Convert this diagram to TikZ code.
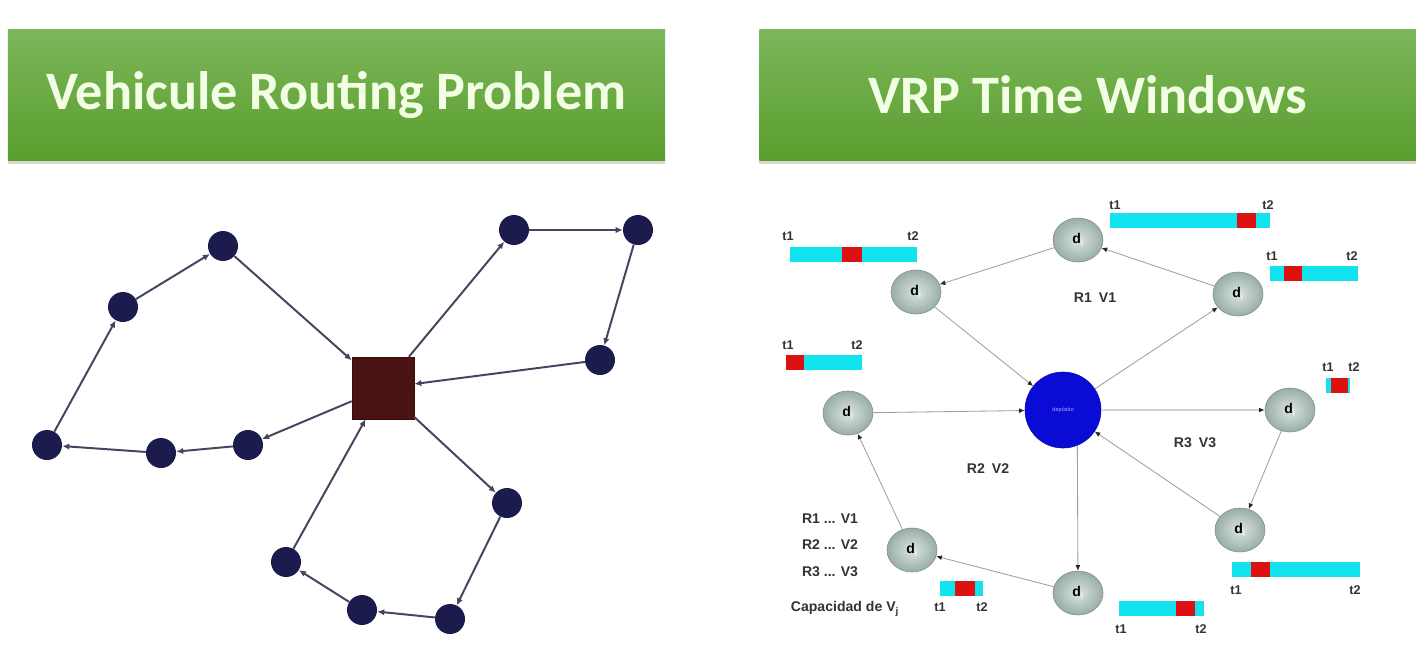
\documentclass[tikz,border=0pt]{standalone}
\usepackage{fontspec}
\setmainfont{Liberation Sans}
\newfontfamily\titlefont{Carlito}
\usetikzlibrary{arrows.meta,shadows,shapes.geometric}

\definecolor{titletop}{HTML}{7CB65A}
\definecolor{titlebot}{HTML}{5A9E2E}
\definecolor{titletext}{HTML}{F2FFE4}
\definecolor{navy}{HTML}{1B1B4E}
\definecolor{maroon}{HTML}{4A1212}
\definecolor{edgegray}{HTML}{45455F}
\definecolor{custfill}{HTML}{A6BDB5}
\definecolor{twcyan}{HTML}{11E4EE}
\definecolor{twred}{HTML}{DD1111}
\definecolor{depblue}{HTML}{0B0BD6}

\begin{document}
\begin{tikzpicture}[x=0.025cm,y=-0.025cm,
    title/.style={minimum width=16.425cm, minimum height=3.25cm, top color=titletop, bottom color=titlebot,
      drop shadow={shadow xshift=0pt, shadow yshift=-3pt, opacity=0.3}, text=titletext,
      font=\titlefont\bfseries\fontsize{38.5}{44}\selectfont},
    city/.style={circle, fill=navy, minimum size=0.75cm, inner sep=0pt},
    route/.style={draw=edgegray, line width=1.4pt, -{Latex[length=5pt,width=4.5pt]}},
    cust/.style={ellipse, minimum width=1.25cm, minimum height=1.1cm, inner sep=0pt,
      inner color=custfill!40!white, outer color=custfill!92!black, draw=custfill!75!black, thin},
    link/.style={draw=gray!75, line width=0.6pt, -{Latex[length=4pt,width=3.5pt,color=black!85]}},
    lbl/.style={font=\bfseries\fontsize{10}{12}\selectfont, text=black!80},
    tlbl/.style={font=\bfseries\fontsize{9}{10}\selectfont, text=black!80}]
  \useasboundingbox[fill=white] (0,0) rectangle (1416,647);

  % titles
  \node[title](t1) at (336.5,95){Vehicule Routing Problem};
  \node[title](t2) at (1088,95){VRP Time Windows};

  % --- VRP ---
  \node[rectangle, fill=maroon, draw=maroon!70!black, minimum size=1.55cm](dep) at (383,388){};

  \node[city](c1) at (223,246){};
  \node[city](c2) at (123,307){};
  \node[city](c3) at (47,445){};
  \node[city](c4) at (161,453){};
  \node[city](c5) at (248,445){};
  \node[city](c6) at (514,230){};
  \node[city](c7) at (638,230){};
  \node[city](c8) at (600,360){};
  \node[city](c9) at (507,503){};
  \node[city](c10) at (450,619){};
  \node[city](c11) at (362,610){};
  \node[city](c12) at (286,562){};

  \draw[route] (dep) -- (c5);
  \draw[route] (c5) -- (c4);
  \draw[route] (c4) -- (c3);
  \draw[route] (c3) -- (c2);
  \draw[route] (c2) -- (c1);
  \draw[route] (c1) -- (dep);

  \draw[route] (dep) -- (c6);
  \draw[route] (c6) -- (c7);
  \draw[route] (c7) -- (c8);
  \draw[route] (c8) -- (dep);

  \draw[route] (dep) -- (c9);
  \draw[route] (c9) -- (c10);
  \draw[route] (c10) -- (c11);
  \draw[route] (c11) -- (c12);
  \draw[route] (c12) -- (dep);

  % --- VRPTW ---
  \node[circle, fill=depblue, draw=depblue!80!black, minimum size=1.9cm, inner sep=0pt,
    text=blue!35!white, font=\fontsize{4}{5}\selectfont](dp) at (1063,410){depósito};

  \node[cust](d1) at (916,292){\textbf{d}\textcolor{white}{\textsubscript{i}}};
  \node[cust](d2) at (1078,240){\textbf{d}\textcolor{white}{\textsubscript{i}}};
  \node[cust](d3) at (1238,294){\textbf{d}\textcolor{white}{\textsubscript{i}}};
  \node[cust](d4) at (848,413){\textbf{d}\textcolor{white}{\textsubscript{i}}};
  \node[cust](d5) at (1290,410){\textbf{d}\textcolor{white}{\textsubscript{i}}};
  \node[cust](d6) at (1240,530){\textbf{d}\textcolor{white}{\textsubscript{i}}};
  \node[cust](d7) at (912,550){\textbf{d}\textcolor{white}{\textsubscript{i}}};
  \node[cust](d8) at (1078,593){\textbf{d}\textcolor{white}{\textsubscript{i}}};

  \draw[link] (dp) -- (d3);
  \draw[link] (d3) -- (d2);
  \draw[link] (d2) -- (d1);
  \draw[link] (d1) -- (dp);

  \draw[link] (dp.-68) -- (d8);
  \draw[link] (d8) -- (d7);
  \draw[link] (d7) -- (d4);
  \draw[link] (d4) -- (dp);

  \draw[link, draw=gray!35, line width=2pt] (dp) -- (d5);
  \draw[link] (d5) -- (d6);
  \draw[link] (d6) -- (dp);

  % time windows
  \foreach \xa/\xb/\ya/\ra/\rb/\ty/\ta/\tb in {
      790/917/247/842/862/236/788/913,
      1110/1270/213/1237/1256/205/1115/1268,
      1270/1358/266/1284/1302/256/1272/1352,
      786/862/355/786/804/345/788/857,
      1326/1350/378/1331/1348/367/1328/1354,
      1232/1360/562/1251/1270/590/1236/1355,
      1119/1204/601/1176/1195/629/1121/1201,
      940/983/581/955/975/607/940/982}{
    \fill[twcyan] (\xa,\ya) rectangle (\xb,\ya+15);
    \fill[twred] (\ra,\ya) rectangle (\rb,\ya+15);
    \node[tlbl] at (\ta,\ty) {t1};
    \node[tlbl] at (\tb,\ty) {t2};
  }

  \node[lbl](r1) at (1095,298){R1\enspace V1};
  \node[lbl](r2) at (988,469){R2\enspace V2};
  \node[lbl](r3) at (1195,443){R3\enspace V3};

  \node[lbl](k1) at (830,519){R1 ... V1};
  \node[lbl](k2) at (830,545){R2 ... V2};
  \node[lbl](k3) at (830,572){R3 ... V3};
  \node[lbl](cap) at (845,609){Capacidad de V\textsubscript{j}};
\end{tikzpicture}
\end{document}
